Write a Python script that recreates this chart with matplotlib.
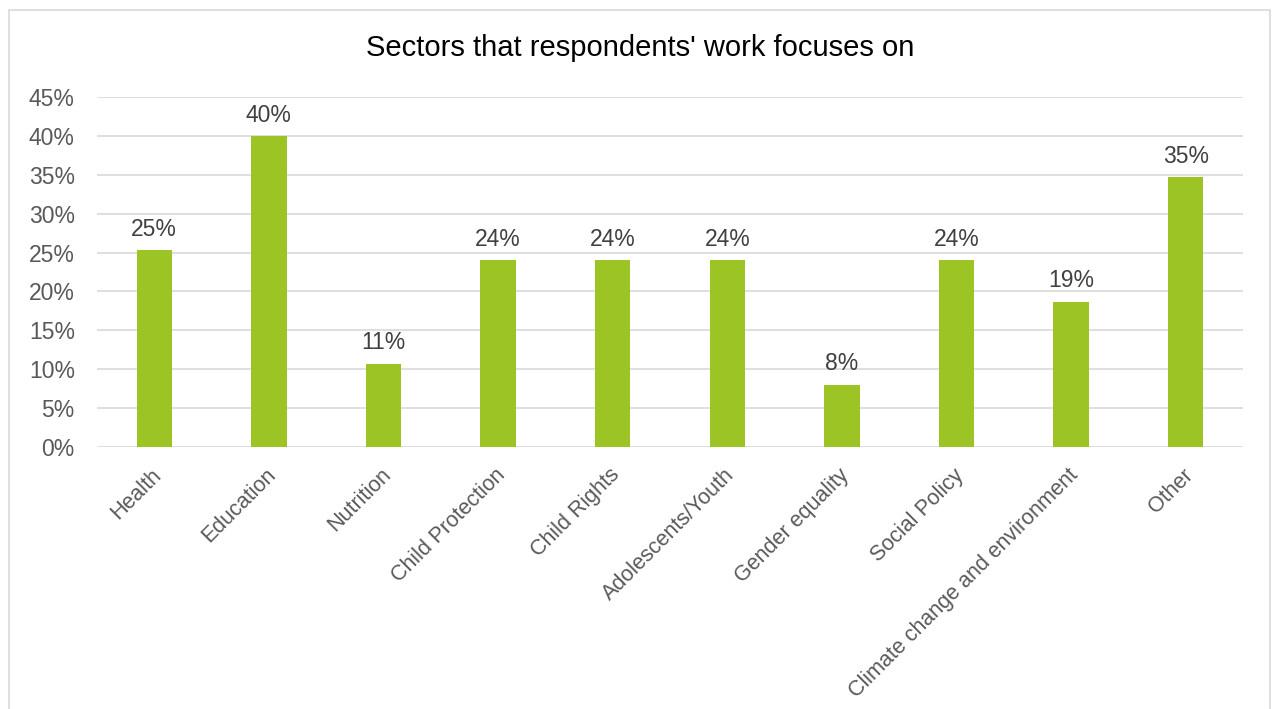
import matplotlib
matplotlib.use('Agg')
import matplotlib.pyplot as plt
from matplotlib.patches import Rectangle
from matplotlib.ticker import MultipleLocator, FuncFormatter
from matplotlib.transforms import ScaledTranslation

plt.rcParams['font.family'] = ['Liberation Sans', 'DejaVu Sans']

sectors = ['Health', 'Education', 'Nutrition', 'Child Protection', 'Child Rights',
           'Adolescents/Youth', 'Gender equality', 'Social Policy',
           'Climate change and environment', 'Other']
share = [25.3, 40.0, 10.7, 24.0, 24.0, 24.0, 8.0, 24.0, 18.7, 34.7]

fig = plt.figure(figsize=(12.73, 7.09), dpi=100)
ax = fig.add_axes([0.0762, 0.3695, 0.9002, 0.4937])

# light frame round the chart area
fig.patches.append(Rectangle((9 / 1273, -0.01), (1270 - 9) / 1273, 1.01 - 10 / 709,
                             transform=fig.transFigure, fill=False,
                             edgecolor='#d9d9d9', linewidth=1.2))

x = range(len(sectors))
bars = ax.bar(x, share, width=0.31, color='#9bc424', zorder=3)
for b, v in zip(bars, share):
    ax.text(b.get_x() + b.get_width() / 2, v + 1.2, f'{v:.0f}%',
            ha='center', va='bottom', fontsize=16.5, color='#404040')

ax.set_ylim(0, 45)
ax.set_xlim(-0.5, len(sectors) - 0.5)
ax.yaxis.set_major_locator(MultipleLocator(5))
ax.yaxis.set_major_formatter(FuncFormatter(lambda v, p: f'{v:.0f}%'))
ax.grid(axis='y', color='#d9d9d9', linewidth=1.2, zorder=0)
for s in ax.spines.values():
    s.set_visible(False)
ax.tick_params(axis='y', length=0, labelsize=16.5, labelcolor='#595959', pad=16)

ax.set_xticks(list(x))
ax.set_xticklabels(sectors, rotation=45, ha='right', va='center',
                   rotation_mode='anchor')
ax.tick_params(axis='x', length=0, labelsize=15.5, labelcolor='#595959', pad=18)
# nudge the slanted labels a little to the right
shift = ScaledTranslation(4 / 100, 0, fig.dpi_scale_trans)
for lbl in ax.get_xticklabels():
    lbl.set_transform(lbl.get_transform() + shift)

fig.text(0.503, 0.932, "Sectors that respondents' work focuses on",
         ha='center', va='center', fontsize=21, color='#000000')

fig.savefig('out.png', dpi=100)
